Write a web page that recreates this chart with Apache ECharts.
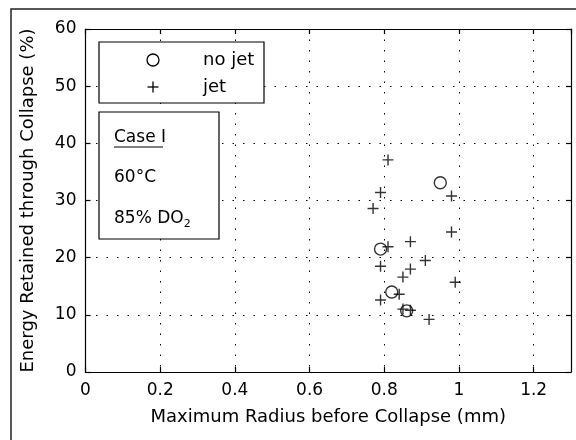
<!DOCTYPE html>
<html>
<head>
<meta charset="utf-8">
<title>Energy retained vs. maximum radius</title>
<script src="https://cdn.jsdelivr.net/npm/echarts@6/dist/echarts.min.js"></script>
<style>
  html, body { margin: 0; padding: 0; background: #fff; }
  #chart { width: 576px; height: 440px; }
</style>
</head>
<body>
<div id="chart"></div>
<script>
// Maximum bubble radius (mm) and retained energy (%) — bubbles without a jet
const noJetRadius = [0.95, 0.79, 0.82, 0.86];
const noJetEnergy = [33.1, 21.5, 14.0, 10.7];

// Bubbles that formed a jet
const jetRadius = [0.81, 0.79, 0.98, 0.77, 0.98, 0.87, 0.81, 0.79, 0.91, 0.87, 0.85, 0.99, 0.84, 0.79, 0.85, 0.87, 0.92];
const jetEnergy = [37.1, 31.4, 30.8, 28.6, 24.5, 22.8, 21.9, 18.5, 19.5, 18.0, 16.6, 15.7, 13.6, 12.6, 11.0, 10.8, 9.2];

const xTicks = { min: 0, max: 1.3, step: 0.2 };
const yTicks = { min: 0, max: 60, step: 10 };

const seriesNames = ['no jet', 'jet'];
const caseLines = ['Case I', '60°C', '85% DO{sub|2}'];

const FONT = 'DejaVu Sans';
const PLUS = 'path://M5,0L5,10M0,5L10,5';

const zip = (xs, ys) => xs.map((x, i) => [x, ys[i]]);

const gridLine = { show: true, lineStyle: { color: '#000', width: 1, type: [1.5, 9] } };

function xAxisDef(pos, showLabels) {
  return {
    type: 'value', position: pos,
    min: xTicks.min, max: xTicks.max, interval: xTicks.step,
    axisLine: { show: true, onZero: false, lineStyle: { color: '#000', width: 1.2 } },
    axisTick: { show: true, inside: true, length: 5, lineStyle: { color: '#000', width: 1.2 } },
    axisLabel: {
      show: showLabels, showMaxLabel: false, margin: 10,
      color: '#000', fontFamily: FONT, fontSize: 17,
      formatter: v => String(Math.round(v * 10) / 10)
    },
    splitLine: showLabels ? gridLine : { show: false }
  };
}

function yAxisDef(pos, showLabels) {
  return {
    type: 'value', position: pos,
    min: yTicks.min, max: yTicks.max, interval: yTicks.step,
    axisLine: { show: true, onZero: false, lineStyle: { color: '#000', width: 1.2 } },
    axisTick: { show: true, inside: true, length: 5, lineStyle: { color: '#000', width: 1.2 } },
    axisLabel: { show: showLabels, margin: 9, color: '#000', fontFamily: FONT, fontSize: 17 },
    splitLine: showLabels ? gridLine : { show: false }
  };
}

const bottomX = Object.assign(xAxisDef('bottom', true), {
  name: 'Maximum Radius before Collapse (mm)',
  nameLocation: 'middle', nameGap: 36,
  nameTextStyle: { color: '#000', fontFamily: FONT, fontSize: 18 }
});
const leftY = Object.assign(yAxisDef('left', true), {
  name: 'Energy Retained through Collapse (%)',
  nameLocation: 'middle', nameGap: 48,
  nameTextStyle: { color: '#000', fontFamily: FONT, fontSize: 18 }
});

const textStyle = { fill: '#000', fontFamily: FONT, fontSize: 17 };

const option = {
  backgroundColor: '#fff',
  animation: false,
  grid: { left: 85.5, right: 5, top: 29, bottom: 68, containLabel: false },
  xAxis: [bottomX, xAxisDef('top', false)],
  yAxis: [leftY, yAxisDef('right', false)],
  series: [
    {
      name: seriesNames[0], type: 'scatter',
      data: zip(noJetRadius, noJetEnergy),
      symbol: 'circle', symbolSize: 12,
      itemStyle: { color: 'none', borderColor: '#000', borderWidth: 1.4 },
      z: 3
    },
    {
      name: seriesNames[1], type: 'scatter',
      data: zip(jetRadius, jetEnergy),
      symbol: PLUS, symbolSize: 11,
      itemStyle: { color: 'none', borderColor: '#000', borderWidth: 1.4 },
      z: 3
    }
  ],
  graphic: [
    // outer figure frame
    { type: 'polyline', shape: { points: [[11, 440], [11, 9], [576, 9]] },
      style: { stroke: '#222', lineWidth: 1.5, fill: null }, z: 10 },
    // legend box
    { type: 'rect', shape: { x: 99, y: 42, width: 165, height: 61 },
      style: { fill: '#fff', stroke: '#000', lineWidth: 1.2 }, z: 10 },
    { type: 'circle', shape: { cx: 153, cy: 60, r: 6 },
      style: { fill: null, stroke: '#000', lineWidth: 1.3 }, z: 11 },
    { type: 'polyline', shape: { points: [[153, 81.5], [153, 92.5]] },
      style: { stroke: '#000', lineWidth: 1.3, fill: null }, z: 11 },
    { type: 'polyline', shape: { points: [[147.5, 87], [158.5, 87]] },
      style: { stroke: '#000', lineWidth: 1.3, fill: null }, z: 11 },
    { type: 'text', x: 203, y: 60, z: 11,
      style: Object.assign({ text: seriesNames[0], verticalAlign: 'middle' }, textStyle, { fontSize: 18 }) },
    { type: 'text', x: 203, y: 87, z: 11,
      style: Object.assign({ text: seriesNames[1], verticalAlign: 'middle' }, textStyle, { fontSize: 18 }) },
    // case annotation box
    { type: 'rect', shape: { x: 99, y: 112, width: 120, height: 127 },
      style: { fill: '#fff', stroke: '#000', lineWidth: 1.2 }, z: 10 },
    { type: 'text', x: 114, y: 138, z: 11,
      style: Object.assign({ text: caseLines[0], verticalAlign: 'middle' }, textStyle) },
    { type: 'polyline', shape: { points: [[114, 147], [163, 147]] },
      style: { stroke: '#000', lineWidth: 1, fill: null }, z: 11 },
    { type: 'text', x: 114, y: 178, z: 11,
      style: Object.assign({ text: caseLines[1], verticalAlign: 'middle' }, textStyle) },
    { type: 'text', x: 114, y: 219, z: 11,
      style: Object.assign({
        text: caseLines[2], verticalAlign: 'middle',
        rich: { sub: { fontFamily: FONT, fontSize: 11, fill: '#000', padding: [10, 0, 0, 0] } }
      }, textStyle) }
  ]
};

echarts.init(document.getElementById('chart'), null, { renderer: 'canvas' }).setOption(option);
</script>
</body>
</html>
